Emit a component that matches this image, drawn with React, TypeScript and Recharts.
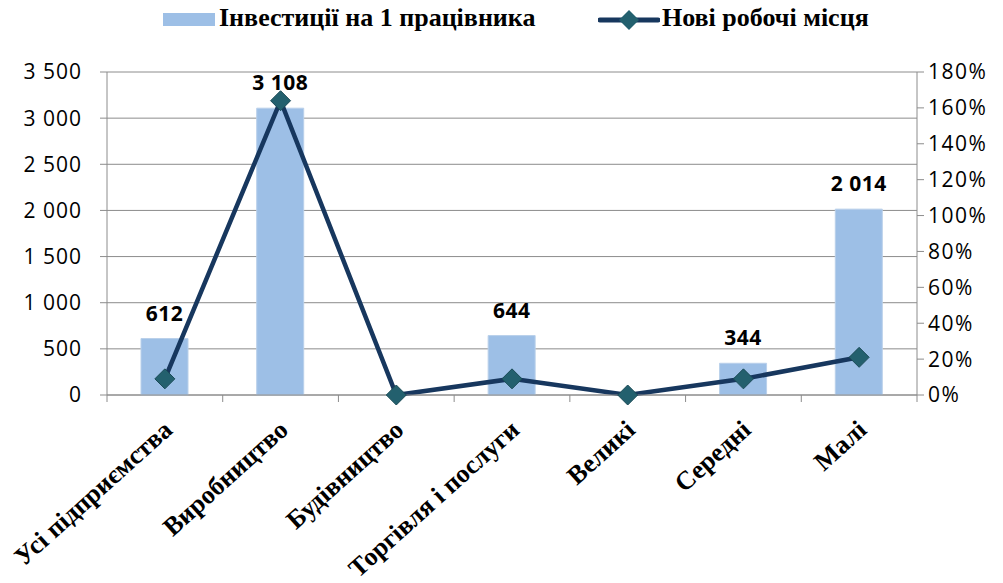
import React from 'react';
import {
  ComposedChart,
  Bar,
  Line,
  XAxis,
  YAxis,
  CartesianGrid,
  LabelList,
} from 'recharts';

// Categories and values
const categories = [
  'Усі підприємства',
  'Виробництво',
  'Будівництво',
  'Торгівля і послуги',
  'Великі',
  'Середні',
  'Малі',
];
const investmentPerWorker = [612, 3108, 0, 644, 0, 344, 2014];
const newJobs = [0.09, 1.64, 0, 0.09, 0, 0.09, 0.21];

const leftTicks = [0, 500, 1000, 1500, 2000, 2500, 3000, 3500];
const rightTicks = [0, 0.2, 0.4, 0.6, 0.8, 1.0, 1.2, 1.4, 1.6, 1.8];

const data = categories.map((name, i) => ({
  name,
  invest: investmentPerWorker[i],
  jobs: newJobs[i],
}));

const BAR_COLOR = '#9dbfe6';
const LINE_COLOR = '#17375e';
const DOT_COLOR = '#23606e';
const GRID_COLOR = '#8c8c8c';
const SANS = '"Open Sans", "Noto Sans", sans-serif';
const SERIF = '"Liberation Serif", "DejaVu Serif", serif';

const spaced = (v: number) => String(v).replace(/\B(?=(\d{3})+(?!\d))/g, ' ');

const Diamond = (props: any) => {
  const { cx, cy } = props;
  if (cx == null || cy == null) return null;
  const r = 10;
  return (
    <polygon
      points={`${cx},${cy - r} ${cx + r},${cy} ${cx},${cy + r} ${cx - r},${cy}`}
      fill={DOT_COLOR}
      stroke="#1b4b57"
      strokeWidth={1}
    />
  );
};

const HALF_BAND = 810 / 7 / 2;

const CategoryTick = (props: any) => {
  const { x, y, payload, index } = props;
  return (
    <g>
      <line x1={x - HALF_BAND} y1={y - 7} x2={x - HALF_BAND} y2={y} stroke={GRID_COLOR} />
      {index === categories.length - 1 && (
        <line x1={x + HALF_BAND} y1={y - 7} x2={x + HALF_BAND} y2={y} stroke={GRID_COLOR} />
      )}
      <text
        transform={`translate(${x + 9},${y + 30}) rotate(-42)`}
        textAnchor="end"
        fontFamily={SERIF}
        fontWeight="bold"
        fontSize={26}
        fill="#000"
      >
        {payload.value}
      </text>
    </g>
  );
};

const Legend = () => (
  <div
    style={{
      position: 'absolute',
      top: 3,
      left: 0,
      width: 1003,
      height: 36,
      fontFamily: SERIF,
      fontWeight: 'bold',
      fontSize: 26,
      color: '#000',
    }}
  >
    <div style={{ position: 'absolute', left: 163, top: 10, width: 52, height: 13, background: BAR_COLOR }} />
    <span style={{ position: 'absolute', left: 219, top: 0, whiteSpace: 'nowrap' }}>Інвестиції на 1 працівника</span>
    <svg style={{ position: 'absolute', left: 598, top: 5 }} width={62} height={24}>
      <line x1={2} y1={12} x2={60} y2={12} stroke={LINE_COLOR} strokeWidth={5} strokeLinecap="round" />
      <polygon points="31,2 41,12 31,22 21,12" fill={DOT_COLOR} />
    </svg>
    <span style={{ position: 'absolute', left: 662, top: 0, whiteSpace: 'nowrap' }}>Нові робочі місця</span>
  </div>
);

export default function App() {
  return (
    <div style={{ position: 'relative', width: 1003, height: 583, background: '#fff' }}>
      <style>{`body { margin: 0; }`}</style>
      <Legend />
      <ComposedChart
        width={1003}
        height={583}
        data={data}
        margin={{ top: 72, right: 0, bottom: 0, left: 0 }}
        barCategoryGap={0}
      >
        <CartesianGrid vertical={false} stroke={GRID_COLOR} yAxisId="left" />
        <XAxis
          dataKey="name"
          height={188}
          interval={0}
          stroke={GRID_COLOR}
          tickLine={false}
          tickSize={7}
          tickMargin={0}
          tick={<CategoryTick />}
        />
        <YAxis
          yAxisId="left"
          width={107}
          domain={[0, 3500]}
          ticks={leftTicks}
          interval={0}
          stroke={GRID_COLOR}
          tickSize={7}
          tickMargin={18}
          tickFormatter={spaced}
          tick={{ fill: '#000', fontFamily: SANS, fontSize: 21, letterSpacing: 1 }}
        />
        <YAxis
          yAxisId="right"
          orientation="right"
          width={86}
          domain={[0, 1.8]}
          ticks={rightTicks}
          interval={0}
          stroke={GRID_COLOR}
          tickSize={7}
          tickMargin={4}
          tickFormatter={(v: number) => `${Math.round(v * 100)}%`}
          tick={{ fill: '#000', fontFamily: SANS, fontSize: 21, letterSpacing: 1.5 }}
        />
        <Bar
          yAxisId="left"
          dataKey="invest"
          fill={BAR_COLOR}
          stroke="#b9d0ea"
          barSize={47}
          isAnimationActive={false}
        >
          <LabelList
            dataKey="invest"
            position="top"
            offset={18}
            formatter={(v: any) => spaced(v)}
            fill="#000"
            fontFamily={SANS}
            fontWeight="bold"
            fontSize={21}
            letterSpacing={0.5}
          />
        </Bar>
        <Line
          yAxisId="right"
          dataKey="jobs"
          stroke={LINE_COLOR}
          strokeWidth={4.5}
          dot={<Diamond />}
          activeDot={false}
          isAnimationActive={false}
        />
      </ComposedChart>
    </div>
  );
}
